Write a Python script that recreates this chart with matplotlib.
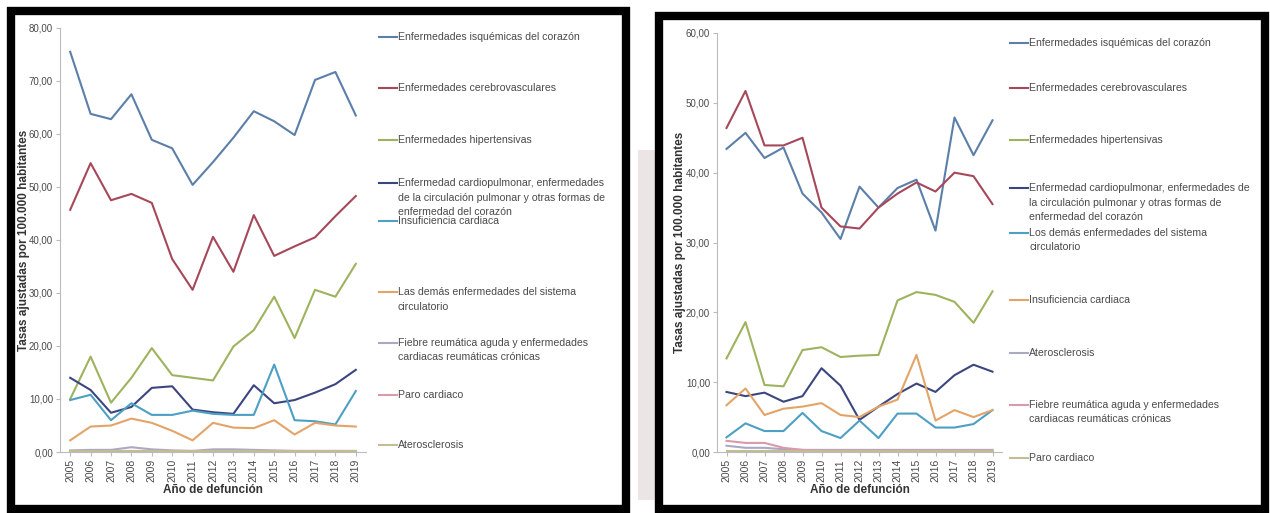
import matplotlib
matplotlib.use("Agg")
import matplotlib.pyplot as plt
import matplotlib.ticker as ticker
from matplotlib.patches import Rectangle
from matplotlib.lines import Line2D

plt.rcParams['font.family'] = ['Liberation Sans', 'DejaVu Sans']

# --- Datos ---
anios = list(range(2005, 2020))

# Panel izquierdo
izq_isquemicas = [75.5, 63.8, 62.8, 67.5, 58.9, 57.3, 50.4, 54.7, 59.3, 64.3, 62.4, 59.8, 70.2, 71.7, 63.5]
izq_cerebro = [45.7, 54.5, 47.5, 48.7, 47.0, 36.4, 30.6, 40.6, 34.0, 44.7, 37.0, 38.8, 40.5, 44.5, 48.3]
izq_hipert = [10.0, 18.0, 9.3, 14.0, 19.6, 14.5, 14.0, 13.5, 19.9, 23.0, 29.3, 21.5, 30.6, 29.3, 35.5]
izq_cardiopulm = [14.0, 11.7, 7.4, 8.5, 12.1, 12.4, 8.0, 7.5, 7.2, 12.6, 9.2, 9.8, 11.2, 12.8, 15.5]
izq_insuf = [9.8, 10.8, 6.0, 9.2, 7.0, 7.0, 7.8, 7.2, 7.0, 7.0, 16.5, 6.0, 5.8, 5.2, 11.5]
izq_demas = [2.2, 4.8, 5.0, 6.3, 5.5, 4.0, 2.2, 5.5, 4.6, 4.5, 6.0, 3.3, 5.5, 5.0, 4.8]
izq_fiebre = [0.3, 0.4, 0.4, 0.9, 0.5, 0.3, 0.2, 0.5, 0.5, 0.4, 0.3, 0.2, 0.2, 0.2, 0.2]
izq_paro = [0.2, 0.2, 0.2, 0.2, 0.2, 0.2, 0.2, 0.2, 0.2, 0.2, 0.2, 0.2, 0.2, 0.2, 0.2]
izq_ateros = [0.1, 0.1, 0.1, 0.1, 0.1, 0.1, 0.1, 0.1, 0.1, 0.1, 0.1, 0.1, 0.1, 0.1, 0.1]

izq_series = [izq_isquemicas, izq_cerebro, izq_hipert, izq_cardiopulm, izq_insuf,
              izq_demas, izq_fiebre, izq_paro, izq_ateros]
izq_etiquetas = [
    ["Enfermedades isquémicas del corazón"],
    ["Enfermedades cerebrovasculares"],
    ["Enfermedades hipertensivas"],
    ["Enfermedad cardiopulmonar, enfermedades",
     "de la circulación pulmonar y otras formas de",
     "enfermedad del corazón"],
    ["Insuficiencia cardiaca"],
    ["Las demás enfermedades del sistema", "circulatorio"],
    ["Fiebre reumática aguda y enfermedades", "cardiacas reumáticas crónicas"],
    ["Paro cardiaco"],
    ["Aterosclerosis"],
]

# Panel derecho
der_isquemicas = [43.4, 45.7, 42.1, 43.6, 37.0, 34.3, 30.5, 38.0, 35.0, 37.8, 39.0, 31.7, 47.9, 42.5, 47.5]
der_cerebro = [46.4, 51.7, 43.9, 43.9, 45.0, 35.0, 32.3, 32.0, 35.0, 37.0, 38.6, 37.3, 40.0, 39.5, 35.5]
der_hipert = [13.4, 18.6, 9.6, 9.4, 14.6, 15.0, 13.6, 13.8, 13.9, 21.7, 22.9, 22.5, 21.5, 18.5, 23.0]
der_cardiopulm = [8.6, 8.0, 8.5, 7.2, 8.0, 12.0, 9.5, 4.6, 6.5, 8.3, 9.8, 8.6, 11.0, 12.5, 11.5]
der_demas = [2.1, 4.1, 3.0, 3.0, 5.6, 3.0, 2.0, 4.5, 2.0, 5.5, 5.5, 3.5, 3.5, 4.0, 6.0]
der_insuf = [6.7, 9.1, 5.3, 6.2, 6.5, 7.0, 5.3, 5.0, 6.5, 7.5, 13.9, 4.5, 6.0, 5.0, 6.0]
der_ateros = [0.9, 0.6, 0.6, 0.4, 0.3, 0.3, 0.3, 0.3, 0.3, 0.3, 0.3, 0.3, 0.3, 0.3, 0.3]
der_fiebre = [1.6, 1.3, 1.3, 0.6, 0.3, 0.2, 0.2, 0.2, 0.2, 0.2, 0.2, 0.2, 0.2, 0.2, 0.2]
der_paro = [0.2, 0.2, 0.2, 0.2, 0.2, 0.2, 0.2, 0.2, 0.2, 0.2, 0.2, 0.2, 0.2, 0.2, 0.2]

der_series = [der_isquemicas, der_cerebro, der_hipert, der_cardiopulm, der_demas,
              der_insuf, der_ateros, der_fiebre, der_paro]
der_etiquetas = [
    ["Enfermedades isquémicas del corazón"],
    ["Enfermedades cerebrovasculares"],
    ["Enfermedades hipertensivas"],
    ["Enfermedad cardiopulmonar, enfermedades de",
     "la circulación pulmonar y otras formas de",
     "enfermedad del corazón"],
    ["Los demás enfermedades del sistema", "circulatorio"],
    ["Insuficiencia cardiaca"],
    ["Aterosclerosis"],
    ["Fiebre reumática aguda y enfermedades", "cardiacas reumáticas crónicas"],
    ["Paro cardiaco"],
]

# colores por orden de serie (estilo Excel)
colores = ["#5B7FA8", "#A5485A", "#9DB35E", "#3C467E", "#4D9FC4",
           "#E2A468", "#A9A9C4", "#D99AAA", "#C4BC94"]

W, H = 1270, 513
TXT = "#4A4A4A"


def fx(x):
    return x / W


def fy(y):
    return 1 - y / H


def panel(fig, px, series, ymax, etiquetas, leg_x, leg_y, ylab_x):
    x0, x1, y0, y1 = px  # pixeles: izquierda, derecha, arriba, abajo
    ax = fig.add_axes([fx(x0), fy(y1), fx(x1 - x0), (y1 - y0) / H])
    for vals, col in zip(series, colores):
        ax.plot(anios, vals, color=col, linewidth=1.5)
    ax.set_xlim(2004.5, 2019.5)
    ax.set_ylim(0, ymax)
    ax.set_yticks(range(0, ymax + 1, 10))
    ax.yaxis.set_major_formatter(ticker.FuncFormatter(lambda v, _: f"{v:.2f}".replace(".", ",")))
    ax.set_xticks(anios)
    ax.set_xticklabels([str(a) for a in anios], rotation=90, fontsize=7.5, color=TXT)
    ax.tick_params(axis='y', labelsize=7, labelcolor=TXT, length=3, color="#BBBBBB", pad=2)
    ax.tick_params(axis='x', length=3, color="#BBBBBB", pad=2)
    for s in ["top", "right"]:
        ax.spines[s].set_visible(False)
    for s in ["left", "bottom"]:
        ax.spines[s].set_color("#BBBBBB")
    ax.set_xlabel("Año de defunción", fontsize=8.5, fontweight="bold", color="#333333", labelpad=1)
    ax.set_ylabel("Tasas ajustadas por 100.000 habitantes", fontsize=8.5, fontweight="bold",
                  color="#333333")
    ax.yaxis.set_label_coords((ylab_x - x0) / (x1 - x0), 0.5)

    # leyenda manual (a la derecha)
    for lineas, col, yy in zip(etiquetas, colores, leg_y):
        fig.add_artist(Line2D([fx(leg_x - 19), fx(leg_x - 1)], [fy(yy), fy(yy)],
                              transform=fig.transFigure, color=col, linewidth=1.5))
        for k, t in enumerate(lineas):
            fig.text(fx(leg_x), fy(yy + k * 14.5), t, fontsize=7.6, color=TXT, va="center", ha="left")
    return ax


fig = plt.figure(figsize=(12.7, 5.13), dpi=100)

# franja gris a la izquierda del panel derecho
fig.add_artist(Rectangle((fx(638), fy(500)), fx(17), 350 / H, transform=fig.transFigure,
                         facecolor="#ECE5E6", edgecolor="none", zorder=0))

panel(fig, (60, 366, 28, 452), izq_series, 80, izq_etiquetas, 398,
      [37, 88, 140, 183, 221, 292, 343, 395, 445], 30)
panel(fig, (717, 1002, 33, 452), der_series, 60, der_etiquetas, 1029,
      [43, 88, 140, 188, 233, 300, 353, 405, 458], 686)

# marcos negros
fig.add_artist(Rectangle((fx(11), fy(509)), fx(615), 498 / H, transform=fig.transFigure,
                         fill=False, edgecolor="black", linewidth=6))
fig.add_artist(Rectangle((fx(659), fy(509)), fx(606), 493 / H, transform=fig.transFigure,
                         fill=False, edgecolor="black", linewidth=6))

fig.savefig("out.png", dpi=100)
